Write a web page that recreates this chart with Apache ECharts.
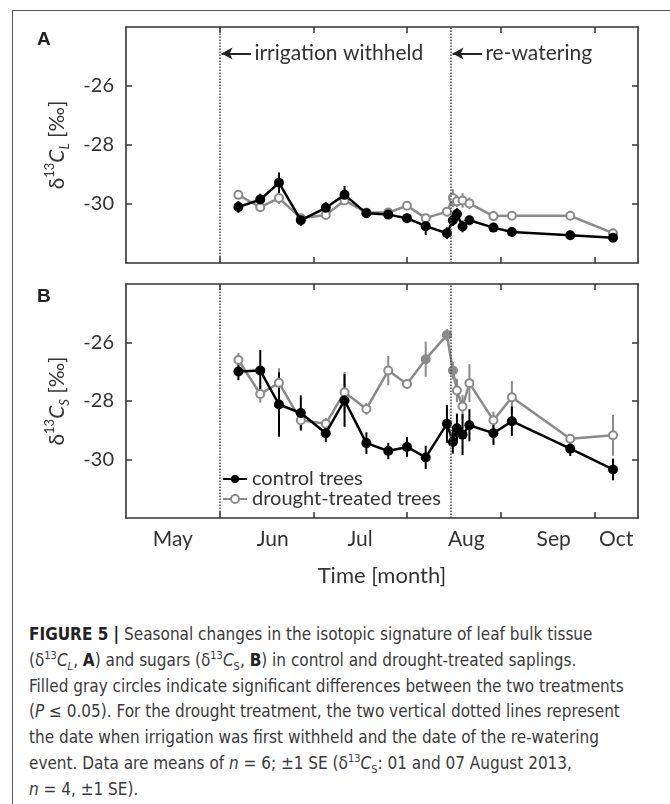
<!DOCTYPE html>
<html>
<head>
<meta charset="utf-8">
<script src="https://cdn.jsdelivr.net/npm/echarts@6/dist/echarts.min.js"></script>
<style>
body{margin:0;background:#fff;}
#wrap{position:relative;width:670px;height:804px;overflow:hidden;}
#frame{position:absolute;left:12px;top:10px;width:720px;height:840px;border:1.5px solid #555;box-sizing:border-box;}
#chart{position:absolute;left:0;top:0;width:670px;height:615px;}
#caption{position:absolute;left:29px;top:622px;font-family:"Liberation Sans Narrow","DejaVu Sans Condensed",sans-serif;font-size:17px;line-height:25.8px;color:#3a3a3a;white-space:nowrap;}
#caption b{color:#222;}
#caption sup,#caption sub{font-size:11px;line-height:0;}
</style>
</head>
<body>
<div id="wrap">
<div id="frame"></div>
<div id="chart"></div>
<div id="caption">
<b>FIGURE 5 |</b> Seasonal changes in the isotopic signature of leaf bulk tissue<br>
(δ<sup>13</sup><i>C<sub>L</sub></i>, <b>A</b>) and sugars (δ<sup>13</sup><i>C</i><sub>S</sub>, <b>B</b>) in control and drought-treated saplings.<br>
Filled gray circles indicate significant differences between the two treatments<br>
(<i>P</i> ≤ 0.05). For the drought treatment, the two vertical dotted lines represent<br>
the date when irrigation was first withheld and the date of the re-watering<br>
event. Data are means of <i>n</i> = 6; ±1 SE (δ<sup>13</sup><i>C</i><sub>S</sub>: 01 and 07 August 2013,<br>
<i>n</i> = 4, ±1 SE).
</div>
</div>
<script>
// sampling dates, in days on the time axis
const days = [36, 43, 49, 56, 64, 70, 77, 84, 90, 96, 102.8, 104.7, 106, 107.8, 110, 117.7, 123.6, 142.3, 156];

// panel A: leaf bulk tissue
const leafControl = [-30.1, -29.85, -29.28, -30.55, -30.13, -29.69, -30.31, -30.36, -30.48, -30.75, -30.99, -30.55, -30.34, -30.76, -30.55, -30.8, -30.95, -31.06, -31.14];
const leafControlSE = [0.2, 0.2, 0.35, 0.2, 0.2, 0.3, 0.15, 0.1, 0.15, 0.3, 0.2, 0.2, 0.2, 0.2, 0.15, 0.15, 0.1, 0.15, 0.15];
const leafDrought = [-29.69, -30.11, -29.8, -30.48, -30.37, -29.88, -30.29, -30.29, -30.06, -30.48, -30.26, -29.8, -29.91, -29.88, -29.98, -30.41, -30.4, -30.4, -30.99];
const leafDroughtSE = [0.1, 0.15, 0.2, 0.1, 0.15, 0.15, 0.1, 0.1, 0.1, 0.1, 0.15, 0.3, 0.2, 0.25, 0.2, 0.15, 0.1, 0.1, 0.1];

// panel B: sugars
const sugarControl = [-26.99, -26.96, -28.12, -28.41, -29.1, -27.98, -29.44, -29.71, -29.57, -29.93, -28.78, -29.4, -28.93, -29.15, -28.83, -29.1, -28.69, -29.63, -30.34];
const sugarControlSE = [0.3, 0.7, 1.1, 0.6, 0.3, 0.9, 0.37, 0.28, 0.34, 0.4, 0.65, 0.4, 0.5, 0.7, 0.55, 0.4, 0.5, 0.25, 0.37];
const sugarDrought = [-26.6, -27.76, -27.38, -28.66, -28.78, -27.7, -28.27, -26.96, -27.42, -26.57, -25.74, -26.96, -27.64, -28.19, -27.39, -28.66, -27.87, -29.29, -29.17];
const sugarDroughtSE = [0.25, 0.3, 0.5, 0.3, 0.2, 0.7, 0.2, 0.5, 0.15, 0.6, 0.2, 0.3, 0.4, 0.4, 0.65, 0.3, 0.55, 0.15, 0.7];
const sugarSignificant = [9, 10, 11];

// axes
const monthNames = ['May', 'Jun', 'Jul', 'Aug', 'Sep', 'Oct'];
const monthLabelDays = [15, 47, 75, 109, 137, 157];
const monthTickDays = [30, 60, 90, 120, 150];
const yTicks = [-30, -28, -26];
const eventDays = [30, 104];
const eventNames = ['irrigation withheld', 're-watering'];
const arrowLength = 10; // days
const noteLevel = -24.9;

const FONT = 'Lato, "Open Sans", sans-serif';
const AX = '#333';
const GRAY = '#8a8a8a';

const chart = echarts.init(document.getElementById('chart'));

function xAxes(grid, labels){
  let base = {
    type: 'value', gridIndex: grid, min: 0, max: 164,
    axisLine: {show: true, onZero: false, lineStyle: {color: AX, width: 1.6}},
    axisTick: {show: true, inside: true, length: 6, customValues: monthTickDays, lineStyle: {color: AX, width: 1.5}},
    splitLine: {show: false}
  };
  return [
    Object.assign({}, base, {
      position: 'bottom',
      axisLabel: {show: labels, customValues: monthLabelDays, margin: 11, color: '#333', fontSize: 21, fontFamily: FONT,
        formatter: v => monthNames[monthLabelDays.indexOf(v)]},
      name: labels ? 'Time [month]' : '', nameLocation: 'middle', nameGap: 47,
      nameTextStyle: {color: '#333', fontSize: 22, fontFamily: FONT}
    }),
    Object.assign({}, base, {position: 'top', axisLabel: {show: false}})
  ];
}

function yAxes(grid, sub){
  let base = {
    type: 'value', gridIndex: grid, min: -32, max: -24,
    axisLine: {show: true, onZero: false, lineStyle: {color: AX, width: 1.6}},
    axisTick: {show: true, inside: true, length: 6, customValues: yTicks, lineStyle: {color: AX, width: 1.5}},
    splitLine: {show: false}
  };
  return [
    Object.assign({}, base, {
      position: 'left',
      axisLabel: {show: true, customValues: yTicks, margin: 12, color: '#333', fontSize: 20, fontFamily: FONT},
      name: '{d|δ}{sup|13}{i|C}{sub|' + sub + '}{d| [‰]}', nameLocation: 'middle', nameGap: 55,
      nameTextStyle: {color: '#333', fontFamily: FONT, rich: {
        d: {fontSize: 21, fontFamily: FONT, color: '#333', lineHeight: 28},
        sup: {fontSize: 13, fontFamily: FONT, color: '#333', lineHeight: 13, verticalAlign: 'top'},
        i: {fontSize: 21, fontFamily: FONT, fontStyle: 'italic', color: '#333', lineHeight: 28},
        sub: {fontSize: 13, fontFamily: FONT, fontStyle: 'italic', color: '#333', lineHeight: 13, verticalAlign: 'bottom'}
      }}
    }),
    Object.assign({}, base, {position: 'right', axisLabel: {show: false}})
  ];
}

function errorBars(xi, yi, vals, se, color){
  return {
    type: 'custom', name: 'se', xAxisIndex: xi, yAxisIndex: yi, z: 2, silent: true,
    data: days.map((d, i) => [d, vals[i] - se[i], vals[i] + se[i]]),
    encode: {x: 0, y: [1, 2]},
    renderItem: function(params, api){
      let p1 = api.coord([api.value(0), api.value(1)]);
      let p2 = api.coord([api.value(0), api.value(2)]);
      return {type: 'line', shape: {x1: p1[0], y1: p1[1], x2: p2[0], y2: p2[1]}, style: {stroke: color, lineWidth: 2}};
    }
  };
}

function eventLines(withArrows){
  let data = eventDays.map(d => ({xAxis: d, lineStyle: {type: 'dotted', color: '#444', width: 1.5}}));
  if (withArrows) {
    eventDays.forEach(d => {
      data.push([
        {coord: [d + 0.6, noteLevel], symbol: 'arrow', lineStyle: {type: 'solid', color: '#222', width: 2}},
        {coord: [d + arrowLength, noteLevel], symbol: 'none'}
      ]);
    });
  }
  return {silent: true, symbol: 'none', symbolSize: [9, 11], label: {show: false}, data: data};
}

function controlSeries(xi, yi, vals){
  return {
    type: 'line', name: 'control trees', xAxisIndex: xi, yAxisIndex: yi, z: 4,
    data: days.map((d, i) => [d, vals[i]]),
    symbol: 'circle', symbolSize: 10, showAllSymbol: true,
    lineStyle: {color: '#000', width: 2.5}, itemStyle: {color: '#000'}
  };
}

function droughtSeries(xi, yi, vals, filled, withArrows){
  return {
    type: 'line', name: 'drought-treated trees', xAxisIndex: xi, yAxisIndex: yi, z: 3,
    data: days.map((d, i) => filled.indexOf(i) >= 0 ? {value: [d, vals[i]], itemStyle: {color: GRAY}} : [d, vals[i]]),
    symbol: 'circle', symbolSize: 8, showAllSymbol: true,
    lineStyle: {color: GRAY, width: 2.5}, itemStyle: {color: '#fff', borderColor: GRAY, borderWidth: 2},
    markLine: eventLines(withArrows)
  };
}

let annotate = droughtSeries(0, 0, leafDrought, [], true);
annotate.markPoint = {
  symbol: 'rect', symbolSize: 1, itemStyle: {color: 'rgba(0,0,0,0)'}, silent: true,
  label: {show: true, position: 'right', distance: 3, formatter: '{b}', color: '#333', fontSize: 21, fontFamily: FONT},
  data: eventDays.map((d, i) => ({name: eventNames[i], coord: [d + arrowLength, noteLevel]}))
};

chart.setOption({
  animation: false,
  grid: [
    {left: 126, top: 27, width: 512, height: 236},
    {left: 126, top: 284, width: 512, height: 234}
  ],
  xAxis: xAxes(0, false).concat(xAxes(1, true)),
  yAxis: yAxes(0, 'L').concat(yAxes(1, 'S')),
  legend: {
    data: ['control trees', 'drought-treated trees'], orient: 'vertical', left: 222, top: 469,
    itemWidth: 24, itemHeight: 10, itemGap: 0, padding: 0,
    textStyle: {fontSize: 20, fontFamily: FONT, color: '#333'}
  },
  graphic: [
    {type: 'text', left: 37, top: 30, style: {text: 'A', font: 'bold 19px "Liberation Sans"', fill: '#222'}},
    {type: 'text', left: 37, top: 287, style: {text: 'B', font: 'bold 19px "Liberation Sans"', fill: '#222'}}
  ],
  series: [
    errorBars(0, 0, leafDrought, leafDroughtSE, GRAY),
    errorBars(0, 0, leafControl, leafControlSE, '#000'),
    annotate,
    controlSeries(0, 0, leafControl),
    errorBars(2, 2, sugarDrought, sugarDroughtSE, GRAY),
    errorBars(2, 2, sugarControl, sugarControlSE, '#000'),
    droughtSeries(2, 2, sugarDrought, sugarSignificant, false),
    controlSeries(2, 2, sugarControl)
  ]
});
</script>
</body>
</html>
